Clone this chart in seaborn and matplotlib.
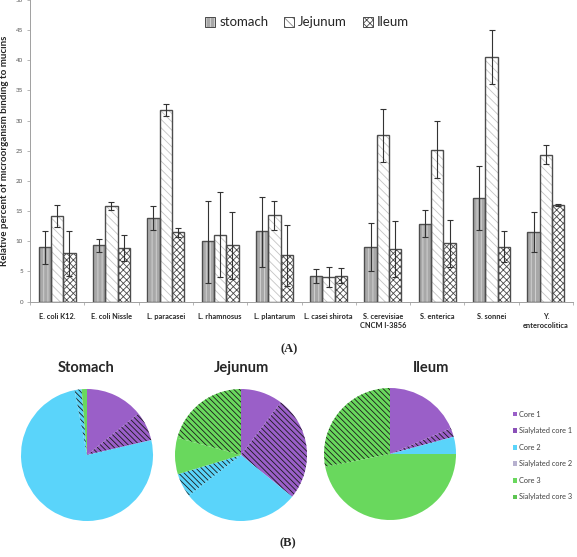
import numpy as np
import pandas as pd
import matplotlib
matplotlib.use('Agg')
import matplotlib.pyplot as plt
from matplotlib.colors import to_rgba
from matplotlib.patches import Patch, Rectangle
import seaborn as sns

# --- Panel A data: relative percent of binding (mean, lower/upper error end) ---
organisms = ['E. coli K12.', 'E. coli Nissle', 'L. paracasei', 'L. rhamnosus', 'L. plantarum',
             'L. casei shirota', 'S. cerevisiae\nCNCM I-3856', 'S. enterica', 'S. sonnei',
             'Y.\nenterocolitica']
sites = ['stomach', 'Jejunum', 'Ileum']

stomach = [9.1, 9.3, 13.8, 10.0, 11.7, 4.3, 9.1, 12.9, 17.1, 11.5]
stomach_lo = [6.3, 8.2, 11.8, 3.1, 5.8, 3.1, 5.1, 10.7, 11.9, 8.2]
stomach_hi = [11.7, 10.4, 15.9, 16.7, 17.4, 5.4, 13.0, 15.1, 22.4, 14.8]

jejunum = [14.2, 15.9, 31.8, 11.1, 14.3, 4.1, 27.6, 25.2, 40.6, 24.3]
jejunum_lo = [12.3, 15.1, 30.8, 4.0, 11.9, 2.4, 23.2, 20.4, 36.1, 22.8]
jejunum_hi = [16.0, 16.5, 32.8, 18.2, 16.7, 5.7, 32.0, 29.9, 45.1, 25.9]

ileum = [8.0, 8.9, 11.5, 9.3, 7.7, 4.3, 8.7, 9.7, 9.1, 16.0]
ileum_lo = [4.3, 6.7, 10.7, 3.8, 2.6, 3.0, 4.1, 5.7, 6.5, 15.9]
ileum_hi = [11.7, 11.1, 12.2, 14.8, 12.7, 5.5, 13.4, 13.5, 11.7, 16.1]

# --- Panel B data: mucin core composition (percent of pie) ---
core_labels = ['Core 1', 'Sialylated core 1', 'Core 2', 'Sialylated core 2', 'Core 3', 'Sialylated core 3']
stomach_pie = [14.2, 7.2, 75.6, 1.7, 1.3, 0.0]
jejunum_pie = [10.3, 25.6, 28.6, 5.8, 8.9, 20.8]
ileum_pie = [18.6, 2.2, 4.2, 0.0, 46.9, 28.1]

W, H = 577, 557
sns.set_style('white')
plt.rcParams['font.family'] = ['Lato', 'DejaVu Sans']
plt.rcParams['hatch.linewidth'] = 0.6

fig = plt.figure(figsize=(W / 100, H / 100), dpi=100)


def px_axes(left, top, width, height):
    # axes placed in pixel coordinates (origin top-left)
    return fig.add_axes([left / W, 1 - (top + height) / H, width / W, height / H])


# ---------------- Panel A ----------------
ax = px_axes(30, 0, 543, 301.5)

rows = []
for i, org in enumerate(organisms):
    for site, vals, lo, hi in [('stomach', stomach, stomach_lo, stomach_hi),
                               ('Jejunum', jejunum, jejunum_lo, jejunum_hi),
                               ('Ileum', ileum, ileum_lo, ileum_hi)]:
        rows.append({'organism': org, 'site': site, 'value': vals[i], 'lo': lo[i], 'hi': hi[i]})
df = pd.DataFrame(rows)

face = {'stomach': '#a8a8a8', 'Jejunum': 'white', 'Ileum': 'white'}
hatch = {'stomach': '||||', 'Jejunum': '\\\\\\\\', 'Ileum': 'xxxxx'}
hcol = {'stomach': '#d6d6d6', 'Jejunum': '#c4c4c4', 'Ileum': '#4a4a4a'}
edge = '#4d4d4d'

sns.barplot(data=df, x='organism', y='value', hue='site', hue_order=sites,
            palette=face, width=0.68, errorbar=None, legend=False, ax=ax)

for site, container in zip(sites, ax.containers):
    sub = df[df['site'] == site].reset_index(drop=True)
    xs, ys = [], []
    for j, p in enumerate(container.patches):
        p.set_hatch(hatch[site])
        p.set_edgecolor(hcol[site])
        p.set_linewidth(0)
        p._hatch_color = to_rgba(hcol[site])
        ax.add_patch(Rectangle(p.get_xy(), p.get_width(), p.get_height(), fill=False,
                               edgecolor=edge, linewidth=1.0, zorder=3))
        xs.append(p.get_x() + p.get_width() / 2)
        ys.append(p.get_height())
    ys = np.array(ys)
    yerr = np.vstack([ys - sub['lo'].values, sub['hi'].values - ys])
    ax.errorbar(xs, ys, yerr=yerr, fmt='none', ecolor='#333333', elinewidth=0.8,
                capsize=2.2, capthick=0.8, zorder=4)

ax.set_xlim(-0.5, len(organisms) - 0.5)
ax.set_ylim(0, 50)
ax.set_yticks(np.arange(0, 51, 5))
ax.set_xlabel('')
ax.set_ylabel('Relative percent of microorganism binding to mucins', fontsize=7,
              fontweight='bold', labelpad=5)
ax.tick_params(axis='y', labelsize=4.5, labelcolor='#595959', length=2, color='#999999',
               width=0.5, left=True, pad=3)
ax.set_xticks(range(len(organisms)))
ax.set_xticklabels(organisms, fontsize=5.3, fontweight='bold', linespacing=1.35)
ax.tick_params(axis='x', length=0, pad=8)
ax.set_xticks(np.arange(-0.5, len(organisms), 1), minor=True)
ax.tick_params(axis='x', which='minor', length=2.5, color='#999999', width=0.5, bottom=True)
for s in ['top', 'right']:
    ax.spines[s].set_visible(False)
for s in ['left', 'bottom']:
    ax.spines[s].set_color('#a0a0a0')
    ax.spines[s].set_linewidth(0.7)

handles = []
for s in sites:
    hp = Patch(facecolor=face[s], edgecolor='#333333', hatch=hatch[s], linewidth=0.6, label=s)
    hp._hatch_color = to_rgba(hcol[s] if s != 'Jejunum' else '#888888')
    handles.append(hp)
ax.legend(handles=handles, loc='upper center', bbox_to_anchor=(0.51, 0.985), ncol=3,
          frameon=False, fontsize=9.5, handlelength=0.75, handleheight=0.75,
          handletextpad=0.3, columnspacing=1.2)

fig.text(289 / W, 1 - 349 / H, '(A)', fontsize=9, fontweight='bold',
         family='Liberation Serif', ha='center', va='center')

# ---------------- Panel B ----------------
core_colors = ['#9a5fc8', '#9a5fc8', '#5ad4fa', '#5ad4fa', '#69d85d', '#69d85d']
core_hatch = [None, '\\\\\\\\\\\\', None, '\\\\\\\\\\\\', None, '\\\\\\\\\\\\']

R = 66
pies = [('Stomach', stomach_pie, 87, 455, 86),
        ('Jejunum', jejunum_pie, 241, 455, 241),
        ('Ileum', ileum_pie, 390, 454, 431)]
for title, vals, cx, cy, tx in pies:
    side = R * 2.2
    pax = px_axes(cx - side / 2, cy - side / 2, side, side)
    wedges, _ = pax.pie(vals, colors=core_colors, startangle=90, counterclock=False,
                        wedgeprops=dict(linewidth=0))
    for w, h in zip(wedges, core_hatch):
        if h:
            w.set_hatch(h)
            w.set_edgecolor('#1a1a1a')
            w.set_linewidth(0)
    pax.set_xlim(-1.1, 1.1)
    pax.set_ylim(-1.1, 1.1)
    pax.set_aspect('equal')
    pax.axis('off')
    fig.text(tx / W, 1 - 368 / H, title, fontsize=10.5, fontweight='bold',
             ha='center', va='center')

legend_colors = ['#9a5fc8', '#8a50b8', '#5ad4fa', '#b7b1cf', '#69d85d', '#5cc452']
leg_handles = [Patch(facecolor=c, edgecolor='none', label=l)
               for c, l in zip(legend_colors, core_labels)]
fig.legend(handles=leg_handles, loc='upper left', bbox_to_anchor=(506 / W, 1 - 404 / H),
           frameon=False, fontsize=5.3, handlelength=0.6, handleheight=0.6,
           handletextpad=0.3, labelspacing=1.3, labelcolor='#404040')

fig.text(288 / W, 1 - 543 / H, '(B)', fontsize=9, fontweight='bold',
         family='Liberation Serif', ha='center', va='center')

fig.savefig('out.png', dpi=100, facecolor='white')
